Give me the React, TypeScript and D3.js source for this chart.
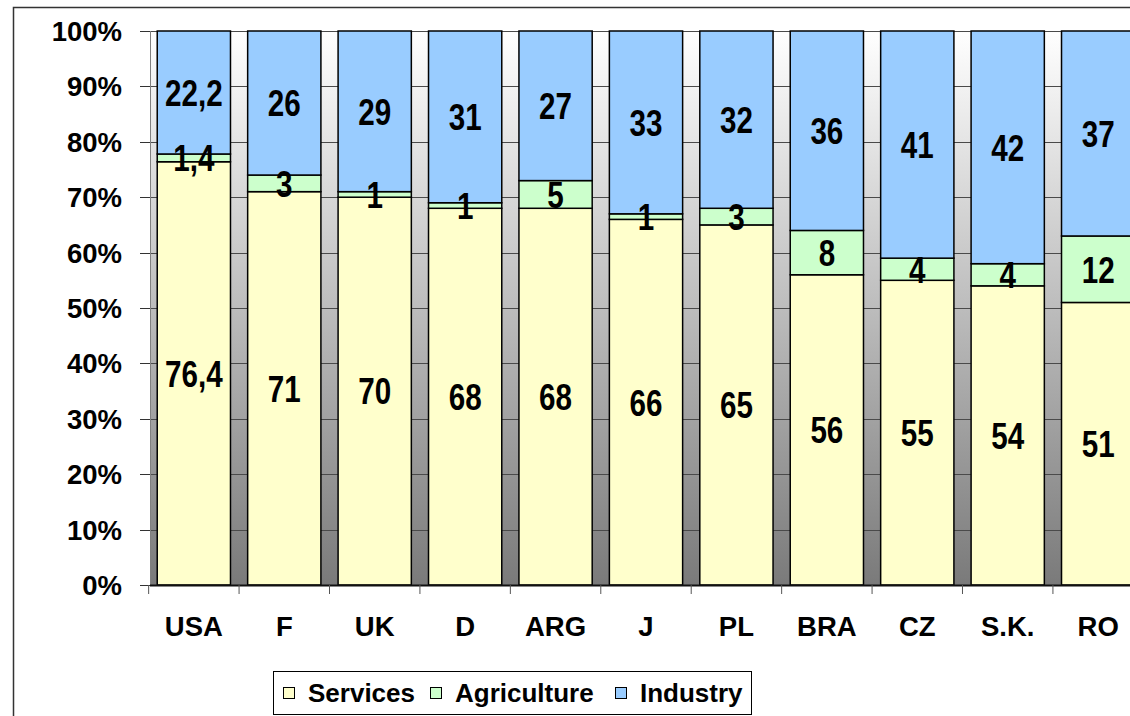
import React, { useEffect, useRef } from 'react';
import * as d3 from 'd3';

const countries = ['USA', 'F', 'UK', 'D', 'ARG', 'J', 'PL', 'BRA', 'CZ', 'S.K.', 'RO'];
const services = [76.4, 71, 70, 68, 68, 66, 65, 56, 55, 54, 51];
const agriculture = [1.4, 3, 1, 1, 5, 1, 3, 8, 4, 4, 12];
const industry = [22.2, 26, 29, 31, 27, 33, 32, 36, 41, 42, 37];
const seriesNames = ['Services', 'Agriculture', 'Industry'];
const seriesColors = ['#FFFFCC', '#CCFFCC', '#99CCFF'];
const yTicks = [0, 10, 20, 30, 40, 50, 60, 70, 80, 90, 100];

const W = 1130;
const H = 716;

export default function App() {
  const svgRef = useRef<SVGSVGElement>(null);

  useEffect(() => {
    const svg = d3.select(svgRef.current);
    svg.selectAll('*').remove();

    const left = 150, top = 31, bottom = 585, right = 1142;

    const x = d3.scaleBand().domain(countries).range([left, right]).paddingInner(0.19).paddingOuter(0.08);
    const y = d3.scaleLinear().domain([0, 100]).range([bottom, top]);

    const defs = svg.append('defs');
    const grad = defs.append('linearGradient').attr('id', 'bg').attr('x1', 0).attr('y1', 0).attr('x2', 0).attr('y2', 1);
    grad.append('stop').attr('offset', '0%').attr('stop-color', '#ffffff');
    grad.append('stop').attr('offset', '100%').attr('stop-color', '#7a7a7a');

    // outer chart frame
    svg.append('rect')
      .attr('x', 13.5).attr('y', 7.5).attr('width', W + 20).attr('height', H + 20)
      .attr('fill', '#fff').attr('stroke', '#333').attr('stroke-width', 1.5);

    svg.append('rect')
      .attr('x', left).attr('y', top).attr('width', right - left).attr('height', bottom - top)
      .attr('fill', 'url(#bg)');

    // gridlines
    svg.append('g').selectAll('line').data(yTicks.slice(1)).join('line')
      .attr('x1', left).attr('x2', right)
      .attr('y1', d => Math.round(y(d)) + 0.5).attr('y2', d => Math.round(y(d)) + 0.5)
      .attr('stroke', '#4a4a4a').attr('stroke-width', 1);

    // stacked data
    const rows = countries.map((c, i) => ({ c, Services: services[i], Agriculture: agriculture[i], Industry: industry[i] }));
    const stack = d3.stack<any>().keys(seriesNames)(rows);

    const fmt = (v: number) => String(v).replace('.', ',');

    stack.forEach((layer, li) => {
      const g = svg.append('g');
      g.selectAll('rect').data(layer).join('rect')
        .attr('x', d => x(d.data.c)!)
        .attr('y', d => y(d[1]))
        .attr('width', x.bandwidth())
        .attr('height', d => y(d[0]) - y(d[1]))
        .attr('fill', seriesColors[li])
        .attr('stroke', '#000').attr('stroke-width', 1.5);
    });

    stack.forEach((layer) => {
      svg.append('g').selectAll('text').data(layer).join('text')
        .attr('transform', d => `translate(${x(d.data.c)! + x.bandwidth() / 2},${(y(d[0]) + y(d[1])) / 2}) scale(0.8,1)`)
        .attr('dy', '0.36em')
        .attr('text-anchor', 'middle')
        .attr('font-family', '"Liberation Sans", Arial, sans-serif')
        .attr('font-weight', 'bold')
        .attr('font-size', 37)
        .attr('fill', '#000')
        .text(d => fmt(+(d[1] - d[0]).toFixed(1)));
    });

    // y axis
    svg.append('line').attr('x1', left + 0.5).attr('x2', left + 0.5).attr('y1', top).attr('y2', bottom)
      .attr('stroke', '#808080').attr('stroke-width', 1);
    const yAxis = svg.append('g');
    yAxis.selectAll('line').data(yTicks).join('line')
      .attr('x1', left - 10).attr('x2', left)
      .attr('y1', d => Math.round(y(d)) + 0.5).attr('y2', d => Math.round(y(d)) + 0.5)
      .attr('stroke', '#333');
    yAxis.selectAll('text').data(yTicks).join('text')
      .attr('x', 122).attr('y', d => y(d)).attr('dy', '0.36em')
      .attr('text-anchor', 'end')
      .attr('font-family', '"Liberation Sans", Arial, sans-serif')
      .attr('font-weight', 'bold').attr('font-size', 27.5)
      .text(d => d + '%');

    // x axis
    svg.append('line').attr('x1', left).attr('x2', right).attr('y1', bottom + 0.5).attr('y2', bottom + 0.5)
      .attr('stroke', '#111').attr('stroke-width', 2);
    const step = x.step();
    const x0 = x(countries[0])! - (step - x.bandwidth()) / 2;
    svg.append('g').selectAll('line').data(d3.range(countries.length + 1)).join('line')
      .attr('x1', i => x0 + i * step).attr('x2', i => x0 + i * step)
      .attr('y1', bottom).attr('y2', bottom + 9)
      .attr('stroke', '#555');
    svg.append('g').selectAll('text').data(countries).join('text')
      .attr('x', d => x(d)! + x.bandwidth() / 2).attr('y', 636)
      .attr('text-anchor', 'middle')
      .attr('font-family', '"Liberation Sans", Arial, sans-serif')
      .attr('font-weight', 'bold').attr('font-size', 27.5)
      .text(d => d);

    // legend
    const lg = svg.append('g');
    lg.append('rect').attr('x', 273.5).attr('y', 671.5).attr('width', 478).attr('height', 43)
      .attr('fill', '#fff').attr('stroke', '#000').attr('stroke-width', 1);
    const legX = [283, 430, 615];
    seriesNames.forEach((n, i) => {
      lg.append('rect').attr('x', legX[i] + 0.5).attr('y', 687.5).attr('width', 11).attr('height', 11)
        .attr('fill', seriesColors[i]).attr('stroke', '#000').attr('stroke-width', 1);
      lg.append('text').attr('x', legX[i] + 25).attr('y', 702)
        .attr('font-family', '"Liberation Sans", Arial, sans-serif')
        .attr('font-weight', 'bold').attr('font-size', 26)
        .text(n);
    });
  }, []);

  return (
    <svg ref={svgRef} width={W} height={H} style={{ position: 'absolute', left: 0, top: 0, display: 'block', background: '#fff' }} />
  );
}
